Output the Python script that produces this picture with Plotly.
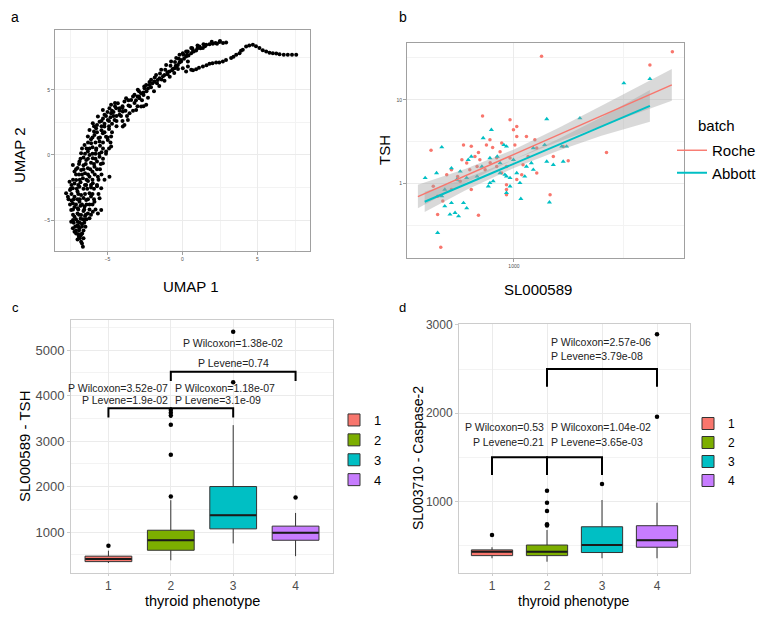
import plotly.graph_objects as go

W, H = 773, 618
PAGE_PAD = 8  # browser body margin around the figure
FIG_W, FIG_H = W - 2 * PAGE_PAD, H - 2 * PAGE_PAD

# %% Panel a: UMAP embedding
umap_x = [
    -6.64, -6.76, -6.91, -7.09, -6.69, -7.31, -6.87, -6.47, -7.42, -6.98,
    -6.53, -6.20, -7.20, -6.76, -6.31, -5.64, -5.42, -5.98, -7.42, -6.98,
    -6.53, -7.31, -6.87, -6.42, -5.87, -7.64, -7.20, -6.76, -6.20, -7.76,
    -5.53, -5.42, -7.31, -6.87, -6.42, -5.98, -7.53, -7.09, -6.64, -6.20,
    -5.64, -4.87, -7.20, -6.76, -6.31, -5.87, -7.31, -5.31, -6.87, -6.42,
    -5.98, -5.53, -6.76, -6.31, -5.76, -5.09, -4.76, -6.53, -6.09, -5.53,
    -4.98, -6.31, -5.87, -5.31, -4.76, -6.20, -5.76, -5.20, -5.98, -5.53,
    -4.98, -4.53, -5.64, -5.20, -4.76, -4.20, -5.31, -4.87, -4.42, -3.87,
    -3.64, -3.98, -3.53, -3.09, -2.76, -2.42, -4.76, -4.31, -3.87, -3.42,
    -2.87, -4.20, -3.76, -3.20, -2.76, -2.98, -2.53, -2.20, -1.87, -1.53,
    -1.20, -0.87, -0.53, -0.31, -0.09, 0.24, 0.58, 0.91, 0.24, 0.02,
    -0.20, -0.42, -0.76, -1.09, -1.42, -1.76, -2.09, -2.42, 0.58, 1.13,
    1.58, 2.02, 2.47, 2.91, 1.36, 0.02, 0.24, 0.58, 0.91, 1.36,
    1.80, 2.24, 2.69, 3.24, 3.80, 4.24, 4.69, 5.13, 5.58, 6.02,
    6.47, 7.02, 7.58, 4.02, 3.58, 0.36, 0.36, -3.98, -7.00, -6.80,
    -7.20, -6.60, -7.00, -6.70, -7.30, -6.80, -6.50, -7.00, -6.60, -7.20,
    -6.80, -6.20, -7.40, -7.00, -6.60, -6.10, -7.50, -7.00, -6.60, -6.10,
    -5.70, -7.20, -6.80, -6.30, -6.90, -6.50, -6.00, -5.50, -7.00, -6.60,
    -6.10, -5.70, -6.60, -6.20, -5.80, -5.40, -6.40, -6.00, -5.50, -6.10,
    -5.60, -5.10, -5.90, -5.40, -4.90, -5.70, -5.20, -4.70, -5.30, -4.80,
    -4.40, -5.00, -4.60, -4.00, -3.60, -3.20, -4.50, -3.00, -2.60, -2.40,
    -2.10, -1.70, -1.40, -1.00, -0.70, -0.40, -0.10, 0.30, 0.70, 1.00,
    1.80, 2.20,
    # denser fill of the upper arc and the right-hand branch
    -2.60, -2.30, -2.00, -1.65, -1.30, -1.00, -0.65, -0.45, -0.20, 0.10,
    0.40, 0.75, 1.20, 1.50, 2.30, 2.70, 0.70, 1.10, 1.60, 2.00,
    2.45, 2.90, 3.40, 3.90, 4.45, 4.90, 5.35, 5.80, 6.25, 6.75,
    7.30,
    -2.90, -2.55, -2.20, -1.85, -1.50, -1.15, -0.80, -0.50, -0.25, 0.05,
    0.35, 0.65, 1.00, 1.40, 1.95, 2.50, -2.30, -1.90, -1.55, -1.20,
    -0.85, -0.55, -0.30,
    # denser fill of the lower band
    -6.70, -6.85, -6.60, -6.95, -6.75, -7.10, -6.90, -7.15, -6.95, -6.70,
    -7.25, -6.85, -6.55, -7.10, -6.65, -6.40, -7.30, -6.90, -6.45, -6.10,
    -7.30, -6.95, -6.55, -6.20, -5.80, -7.50, -7.10, -6.70, -6.40, -6.00,
    -7.60, -7.25, -6.85, -6.30, -5.90, -7.40, -6.95, -6.50, -6.00, -5.60,
    -7.45, -7.05, -6.35, -5.90, -7.40, -6.95, -6.50, -6.10, -5.70, -7.30,
    -6.85, -6.40, -6.00, -5.60, -5.20, -7.10, -6.70, -6.30, -5.85, -5.40,
    -7.10, -6.60, -6.15, -5.70, -6.90, -6.45, -5.90, -5.45, -6.80, -6.30,
    -5.80, -5.30, -6.50, -6.00, -5.55, -5.10, -6.70, -6.20, -5.75, -5.30,
    -4.90, -6.30, -5.80, -5.30, -4.80, -6.00, -5.50, -5.00, -5.70, -5.20,
    -4.70, -5.90, -5.40, -4.90, -4.40, -5.40, -4.90, -4.40, -4.00, -5.10,
    -4.60, -4.10, -3.70, -4.70, -4.20, -3.80, -3.30, -4.50, -4.00, -3.50,
    -3.00, -2.60, -3.60, -3.10, -2.70, -3.30, -2.90,
]
umap_y = [
    -7.05, -6.67, -6.28, -6.03, -6.03, -5.64, -5.64, -5.51, -5.13, -5.13,
    -5.00, -4.87, -4.74, -4.62, -4.49, -4.49, -4.23, -4.36, -4.23, -4.10,
    -3.97, -3.72, -3.59, -3.46, -3.59, -3.21, -3.21, -3.08, -2.95, -2.95,
    -3.33, -2.56, -2.56, -2.44, -2.31, -2.18, -2.05, -1.92, -1.79, -1.67,
    -1.67, -1.67, -1.28, -1.15, -1.03, -0.90, -0.77, -0.64, -0.51, -0.38,
    -0.26, -0.13, 0.13, 0.26, 0.38, 0.26, 0.64, 0.77, 0.90, 1.03,
    1.15, 1.41, 1.54, 1.67, 1.41, 1.92, 2.05, 2.18, 2.44, 2.56,
    2.69, 2.69, 2.95, 3.08, 3.21, 3.08, 3.46, 3.59, 3.59, 2.31,
    2.69, 3.33, 3.21, 3.46, 3.72, 3.85, 3.85, 3.97, 4.10, 4.23,
    4.36, 3.59, 4.36, 4.62, 4.74, 5.00, 5.13, 5.38, 5.64, 5.90,
    6.15, 6.41, 6.67, 6.92, 7.18, 7.56, 7.82, 8.03, 7.95, 7.82,
    7.69, 7.44, 7.18, 6.92, 6.54, 6.15, 5.77, 5.38, 8.21, 8.33,
    8.46, 8.54, 8.67, 8.64, 8.21, 6.67, 6.41, 6.54, 6.59, 6.79,
    7.00, 7.10, 7.18, 7.44, 7.82, 8.33, 8.46, 8.21, 7.95, 7.82,
    7.74, 7.69, 7.69, 8.08, 7.69, 6.79, 7.18, 2.18, -6.50, -6.20,
    -5.90, -5.80, -5.40, -5.30, -5.00, -4.90, -4.70, -4.50, -4.30, -4.00,
    -3.90, -3.80, -3.50, -3.40, -3.30, -3.20, -2.70, -2.80, -2.60, -2.50,
    -2.40, -2.20, -2.10, -2.00, -1.50, -1.40, -1.30, -1.10, -1.00, -0.80,
    -0.60, -0.50, -0.20, 0.00, 0.10, 0.20, 0.50, 0.60, 0.70, 1.20,
    1.30, 1.40, 1.80, 1.90, 2.00, 2.30, 2.40, 2.40, 2.80, 2.90,
    3.00, 3.30, 3.30, 3.60, 3.80, 4.00, 4.00, 4.50, 4.60, 4.90,
    5.20, 5.50, 5.80, 6.20, 6.50, 6.80, 7.30, 7.70, 8.00, 8.20,
    8.50, 8.60,
    4.80, 5.10, 5.50, 5.75, 6.05, 6.35, 6.60, 6.85, 7.10, 7.40,
    7.65, 7.95, 8.20, 8.35, 8.55, 8.60, 6.50, 6.70, 6.90, 7.05,
    7.10, 7.30, 7.55, 8.00, 8.40, 8.35, 8.05, 7.85, 7.80, 7.70,
    7.70,
    4.90, 5.25, 5.60, 5.95, 6.25, 6.55, 6.85, 7.15, 7.40, 7.70,
    7.95, 8.20, 8.40, 8.50, 8.70, 8.75, 4.40, 4.90, 5.30, 5.70,
    6.00, 6.30, 6.60,
    -6.80, -6.40, -6.40, -6.10, -6.10, -5.80, -5.80, -5.50, -5.50, -5.50,
    -5.20, -5.20, -5.20, -4.95, -4.95, -4.95, -4.60, -4.60, -4.60, -4.60,
    -4.20, -4.20, -4.20, -4.20, -4.20, -3.80, -3.80, -3.80, -3.80, -3.80,
    -3.40, -3.40, -3.40, -3.40, -3.40, -3.00, -3.00, -3.00, -3.00, -3.00,
    -2.60, -2.60, -2.60, -2.60, -2.30, -2.30, -2.30, -2.30, -2.30, -1.90,
    -1.90, -1.90, -1.90, -1.90, -1.90, -1.50, -1.50, -1.50, -1.50, -1.50,
    -1.10, -1.10, -1.10, -1.10, -0.70, -0.70, -0.70, -0.70, -0.30, -0.30,
    -0.30, -0.30, 0.10, 0.10, 0.10, 0.10, 0.50, 0.50, 0.50, 0.50,
    0.50, 0.95, 0.95, 0.95, 0.95, 1.35, 1.35, 1.35, 1.75, 1.75,
    1.75, 2.20, 2.20, 2.20, 2.20, 2.60, 2.60, 2.60, 2.60, 3.00,
    3.00, 3.00, 3.00, 3.40, 3.40, 3.40, 3.40, 3.75, 3.75, 3.75,
    3.75, 3.75, 4.20, 4.20, 4.20, 4.50, 4.50,
]

# %% Panel b: TSH vs SL000589 by batch
roche_x = [1335, 420, 720, 960, 1030, 590, 640, 690, 750, 800,
           865, 520, 555, 630, 680, 780, 835, 1010, 1030, 1140,
           1245, 1270, 1160, 960, 925, 880, 835, 740, 520, 450,
           475, 450, 690, 465, 925, 925, 925, 1030, 1085, 1460,
           1510, 1675, 1765, 2635, 610, 580, 700, 665, 778, 880,
           495, 430, 570, 640, 995, 1270, 1100, 5250, 4150]
roche_y = [33, 2.5, 6.4, 5.8, 4.8, 2.9, 2.8, 2.36, 2.9, 2.7,
           2.4, 1.47, 1.22, 1.47, 1.6, 1.78, 2.04, 2.9, 3.66, 3.66,
           3.34, 2.66, 2.11, 2.02, 1.6, 1.34, 1.6, 1.47, 0.85, 0.71,
           0.62, 0.43, 0.42, 0.175, 0.97, 0.85, 0.74, 1.12, 1.28, 0.74,
           2.11, 2.78, 1.88, 2.36, 1.76, 1.93, 1.93, 2.11, 3.34, 3.05,
           1.28, 0.93, 1.07, 0.85, 4.4, 1.34, 1.68, 37.5, 26]
abbott_x = [3160, 1410, 1995, 790, 725, 470, 900, 925, 840, 620,
            640, 715, 570, 445, 395, 550, 610, 680, 778, 805,
            925, 960, 925, 960, 1065, 1120, 1140, 1200, 1225, 1410,
            1510, 1675, 1735, 1650, 1380, 1225, 995, 865, 778, 520,
            485, 470, 520, 590, 485, 512, 540, 560, 610, 450,
            1075, 1450, 765, 865, 1030, 910, 4150]
abbott_y = [15.8, 5.9, 6.05, 4.4, 3.5, 2.73, 2.9, 2.78, 2.11, 1.93,
            2.11, 1.6, 1.4, 1.34, 1.17, 1.12, 1.17, 1.22, 1.02, 1.07,
            1.22, 1.17, 0.78, 0.93, 1.02, 1.22, 1.6, 1.76, 1.47, 1.84,
            1.68, 1.84, 2.78, 2.78, 2.9, 2.66, 1.93, 1.76, 2.02, 1.53,
            0.85, 0.71, 0.59, 0.59, 0.54, 0.43, 0.45, 0.41, 0.51, 0.26,
            0.66, 0.6, 0.93, 1.34, 1.34, 1.28, 17.8]

roche_fit_x = [366, 600, 1000, 1600, 2500, 5220]
roche_fit_y = [0.70, 1.24, 2.23, 3.85, 6.44, 15.1]
roche_lo = [0.51, 1.02, 1.95, 3.18, 4.89, 9.75]
roche_hi = [0.97, 1.50, 2.56, 4.66, 8.49, 23.4]
abbott_fit_x = [393, 600, 1000, 1600, 2500, 4150]
abbott_fit_y = [0.61, 0.98, 1.73, 2.92, 4.82, 8.49]
abbott_lo = [0.46, 0.83, 1.54, 2.49, 3.74, 5.48]
abbott_hi = [0.80, 1.15, 1.94, 3.44, 6.21, 13.15]

# %% Panels c/d: box stats per thyroid phenotype
phenotypes = [1, 2, 3, 4]
pheno_colors = ["#F8766D", "#7CAE00", "#00BFC4", "#C77CFF"]

c_q1 = [350, 600, 1070, 820]
c_med = [410, 820, 1370, 985]
c_q3 = [470, 1040, 2000, 1130]
c_lo = [320, 380, 750, 470]
c_hi = [590, 1700, 3350, 1420]
c_out_x = [1, 2, 2, 2, 2, 2, 2, 3, 3, 4]
c_out_y = [700, 1780, 2700, 3360, 3560, 3620, 3680, 4290, 5400, 1760]

d_q1 = [385, 385, 420, 480]
d_med = [430, 430, 505, 560]
d_q3 = [450, 505, 712, 724]
d_lo = [355, 316, 355, 355]
d_hi = [480, 675, 1015, 984]
d_out_x = [1, 2, 2, 2, 2, 2, 3, 4, 4]
d_out_y = [618, 725, 740, 890, 984, 1120, 1196, 1958, 2895]

# comparison brackets: (x pair, leg bottom, bar height)
c_brackets = [((1, 2), 3520, 3720), ((2, 3), 3520, 3720), ((2, 4), 4320, 4520)]
d_brackets = [((1, 2), 1300, 1500), ((2, 3), 1300, 1500), ((2, 4), 2300, 2500)]

c_labels = [
    (2, 4160, "P Wilcoxon=3.52e-07", "right"), (2, 3900, "P Levene=1.9e-02", "right"),
    (2, 4160, "P Wilcoxon=1.18e-07", "left"), (2, 3900, "P Levene=3.1e-09", "left"),
    (3, 5150, "P Wilcoxon=1.38e-02", "center"), (3, 4720, "P Levene=0.74", "center"),
]
d_labels = [
    (2, 1845, "P Wilcoxon=0.53", "right"), (2, 1675, "P Levene=0.21", "right"),
    (2, 1845, "P Wilcoxon=1.04e-02", "left"), (2, 1675, "P Levene=3.65e-03", "left"),
    (2, 2807, "P Wilcoxon=2.57e-06", "left"), (2, 2645, "P Levene=3.79e-08", "left"),
]


# positions below are in page pixels; the figure sits inside the body margin
def fx(px):
    return (px - PAGE_PAD) / FIG_W


def fy(py):
    return 1 - (py - PAGE_PAD) / FIG_H


FONT = "Liberation Sans, Arial, sans-serif"
TICK_GREY = "#4D4D4D"

fig = go.Figure()

# %% a
fig.add_trace(go.Scatter(x=umap_x, y=umap_y, mode="markers",
                         marker=dict(color="black", size=4, line=dict(width=0)),
                         xaxis="x", yaxis="y", showlegend=False))

# %% b
batches = [
    ("Roche", "#F8766D", roche_x, roche_y, "circle", 3.5, roche_fit_x, roche_fit_y, roche_lo, roche_hi, 1.4),
    ("Abbott", "#00BFC4", abbott_x, abbott_y, "triangle-up", 4.5, abbott_fit_x, abbott_fit_y, abbott_lo, abbott_hi, 2),
]
for name, col, bx, by, sym, msize, *_ in batches:
    fig.add_trace(go.Scatter(x=bx, y=by, mode="markers",
                             marker=dict(color=col, size=msize, symbol=sym, line=dict(width=0)),
                             xaxis="x2", yaxis="y2", showlegend=False))
for name, col, *_, fit_x, fit_y, lo, hi, lw in batches:
    fig.add_trace(go.Scatter(x=fit_x + fit_x[::-1], y=hi + lo[::-1], fill="toself",
                             fillcolor="rgba(160,160,160,0.4)", line=dict(width=0),
                             mode="lines", xaxis="x2", yaxis="y2", showlegend=False))
for name, col, *_, fit_x, fit_y, lo, hi, lw in batches:
    fig.add_trace(go.Scatter(x=fit_x, y=fit_y, mode="lines", name=name,
                             line=dict(color=col, width=lw),
                             xaxis="x2", yaxis="y2", legend="legend"))

# %% c and d
# median marker: plotly's line-ew glyph is 1.4 x size long, so size = box px width / 1.4
for xa, ya, leg, q1, med, q3, lo, hi, ox, oy, brackets, med_px in [
    ("x3", "y3", "legend2", c_q1, c_med, c_q3, c_lo, c_hi, c_out_x, c_out_y, c_brackets, 33),
    ("x4", "y4", "legend3", d_q1, d_med, d_q3, d_lo, d_hi, d_out_x, d_out_y, d_brackets, 29),
]:
    for i, p in enumerate(phenotypes):
        fig.add_trace(go.Box(x=[p], q1=[q1[i]], median=[med[i]], q3=[q3[i]],
                             lowerfence=[lo[i]], upperfence=[hi[i]], name=str(p),
                             width=0.75, whiskerwidth=0, boxpoints=False,
                             fillcolor=pheno_colors[i], line=dict(color="#333333", width=1),
                             xaxis=xa, yaxis=ya, legend=leg))
    # ggplot draws the median thicker than the box outline
    fig.add_trace(go.Scatter(x=phenotypes, y=med, mode="markers",
                             marker=dict(symbol="line-ew", size=med_px,
                                         line=dict(color="#1a1a1a", width=2)),
                             xaxis=xa, yaxis=ya, showlegend=False))
    fig.add_trace(go.Scatter(x=ox, y=oy, mode="markers", marker=dict(color="black", size=4.5),
                             xaxis=xa, yaxis=ya, showlegend=False))
    for (x0, x1), yb, yt in brackets:
        fig.add_trace(go.Scatter(x=[x0, x0, x1, x1], y=[yb, yt, yt, yb], mode="lines",
                                 line=dict(color="black", width=2),
                                 xaxis=xa, yaxis=ya, showlegend=False))

annotations = []
for xr, yr, labels in [("x3", "y3", c_labels), ("x4", "y4", d_labels)]:
    for x, y, txt, anchor in labels:
        shift = {"right": -1, "left": 2, "center": 0}[anchor]
        annotations.append(dict(x=x, y=y, xref=xr, yref=yr, text=txt, showarrow=False,
                                xanchor=anchor, xshift=shift, font=dict(size=10.5, color="#222")))

annotations += [
    dict(x=2080, y=0.74, xref="x2", yref="y2", text="Roche: R^2=0.43", showarrow=False,
         xanchor="left", font=dict(size=7.5, color="#222")),
    dict(x=2080, y=0.49, xref="x2", yref="y2", text="Abbott: R^2=0.47", showarrow=False,
         xanchor="left", font=dict(size=7.5, color="#222")),
]

# panel letters, axis titles, legend title for b
for txt, x, y, size, angle, anchor in [
    ("a", 15, 17, 14, 0, "center"), ("b", 403, 17, 14, 0, "center"),
    ("c", 15, 308, 13, 0, "center"), ("d", 402, 308, 13, 0, "center"),
    ("UMAP 2", 19, 155, 15, -90, "center"), ("UMAP 1", 191, 286, 15, 0, "center"),
    ("TSH", 384, 150, 15, -90, "center"), ("SL000589", 538, 289, 15, 0, "center"),
    ("batch", 696, 125, 15, 0, "left"),
    ("SL000589 - TSH", 25, 447, 15, -90, "center"), ("thyroid phenotype", 202, 601, 14.5, 0, "center"),
    ("SL003710 - Caspase-2", 418, 458, 14, -90, "center"), ("thyroid phenotype", 574, 601, 14, 0, "center"),
]:
    annotations.append(dict(x=fx(x), y=fy(y), xref="paper", yref="paper", text=txt,
                            showarrow=False, textangle=angle, xanchor=anchor, yanchor="middle",
                            font=dict(size=size, color="black")))


def axis_style(border, tsize, ticklen=3):
    return dict(showline=True, mirror=True, linecolor=border, linewidth=1,
                showgrid=True, gridcolor="#EBEBEB", gridwidth=1, zeroline=False,
                ticks="outside", ticklen=ticklen, tickcolor=border,
                tickfont=dict(size=tsize, color=TICK_GREY))


fig.update_layout(
    width=FIG_W, height=FIG_H, margin=dict(l=0, r=0, t=0, b=0),
    template="none", paper_bgcolor="white", plot_bgcolor="white",
    font=dict(family=FONT, color="black"),
    boxmode="overlay",
    xaxis=dict(domain=[fx(55), fx(310)], range=[-8.5, 8.5], tickvals=[-5, 0, 5], anchor="y",
               minor=dict(dtick=2.5, tick0=0, showgrid=True, gridcolor="#F3F3F3", ticks=""),
               **axis_style("#A0A0A0", 5)),
    yaxis=dict(domain=[fy(251), fy(30)], range=[-7.38, 9.6], tickvals=[-5, 0, 5], anchor="x",
               minor=dict(dtick=2.5, tick0=0, showgrid=True, gridcolor="#F3F3F3", ticks=""),
               **axis_style("#A0A0A0", 5)),
    xaxis2=dict(domain=[fx(407), fx(684)], type="log", range=[2.514, 3.773], tickvals=[1000],
                anchor="y2",
                minor=dict(tickmode="array", tickvals=[3162], showgrid=True, gridcolor="#F3F3F3", ticks=""),
                **axis_style("#A0A0A0", 5)),
    yaxis2=dict(domain=[fy(258), fy(43)], type="log", range=[-0.886, 1.678], tickvals=[1, 10],
                anchor="x2",
                minor=dict(tickmode="array", tickvals=[0.316, 3.16, 31.6], showgrid=True,
                           gridcolor="#F3F3F3", ticks=""),
                **axis_style("#A0A0A0", 5)),
    xaxis3=dict(domain=[fx(71), fx(333)], range=[0.4, 4.6], tickvals=phenotypes, anchor="y3",
                **axis_style("#CCCCCC", 12, 2)),
    yaxis3=dict(domain=[fy(573), fy(320)], range=[100, 5660], tickvals=[1000, 2000, 3000, 4000, 5000],
                anchor="x3",
                minor=dict(dtick=500, tick0=0, showgrid=True, gridcolor="#F3F3F3", ticks=""),
                **axis_style("#CCCCCC", 13)),
    xaxis4=dict(domain=[fx(459), fx(690)], range=[0.4, 4.6], tickvals=phenotypes, anchor="y4",
                **axis_style("#CCCCCC", 12, 2)),
    yaxis4=dict(domain=[fy(573), fy(324)], range=[188, 3010], tickvals=[1000, 2000, 3000],
                anchor="x4",
                minor=dict(dtick=500, tick0=0, showgrid=True, gridcolor="#F3F3F3", ticks=""),
                **axis_style("#CCCCCC", 12)),
    legend=dict(x=fx(672), y=fy(134), xanchor="left", yanchor="top", bgcolor="rgba(0,0,0,0)",
                font=dict(size=15), itemwidth=30, tracegroupgap=0),
    legend2=dict(x=fx(334), y=fy(450), xanchor="left", yanchor="middle", bgcolor="rgba(0,0,0,0)",
                 font=dict(size=13), itemwidth=30, tracegroupgap=0),
    legend3=dict(x=fx(688), y=fy(452), xanchor="left", yanchor="middle", bgcolor="rgba(0,0,0,0)",
                 font=dict(size=12), itemwidth=30, tracegroupgap=0),
    annotations=annotations,
)

fig.write_html("out.html")
